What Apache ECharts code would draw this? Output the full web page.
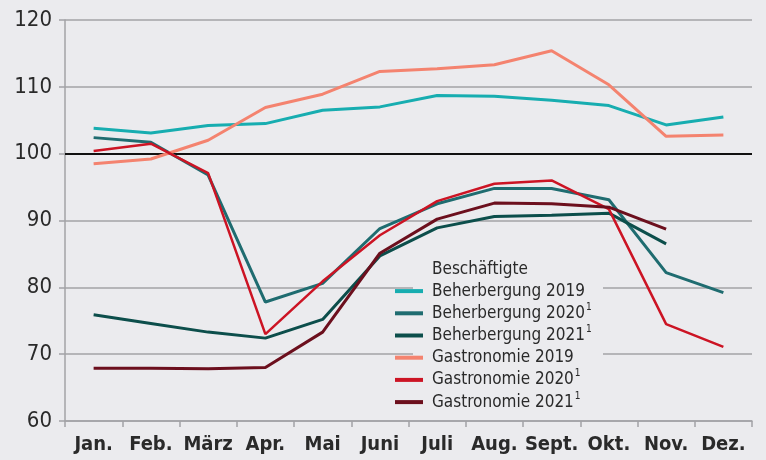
<!DOCTYPE html>
<html><head><meta charset="utf-8">
<script src="https://cdn.jsdelivr.net/npm/echarts@6/dist/echarts.min.js"></script>
<style>html,body{margin:0;padding:0;background:#ebebee}#c{width:766px;height:460px}</style>
</head><body><div id="c"></div>
<script>
const months = ['Jan.','Feb.','März','Apr.','Mai','Juni','Juli','Aug.','Sept.','Okt.','Nov.','Dez.'];
const yTicks = [60,70,80,90,100,110,120];
const beh2019 = [103.8,103.1,104.2,104.5,106.5,107.0,108.7,108.6,108.0,107.2,104.3,105.5];
const beh2020 = [102.4,101.7,96.8,77.8,80.6,88.8,92.5,94.8,94.8,93.1,82.2,79.2];
const beh2021 = [75.9,74.6,73.3,72.4,75.2,84.7,88.9,90.6,90.8,91.1,86.5,null];
const gas2019 = [98.5,99.2,102.0,106.9,108.9,112.3,112.7,113.3,115.4,110.3,102.6,102.8];
const gas2020 = [100.4,101.5,97.1,73.0,80.9,87.8,92.9,95.5,96.0,91.7,74.5,71.1];
const gas2021 = [67.9,67.9,67.8,68.0,73.3,85.1,90.2,92.6,92.5,92.0,88.7,null];
const names = ['Beherbergung 2019','Beherbergung 2020','Beherbergung 2021','Gastronomie 2019','Gastronomie 2020','Gastronomie 2021'];
const sup = [false,true,true,false,true,true];
const colors = ['#17adb0','#1f6c70','#0c4e4b','#f4836f','#cc1424','#6c0f1d'];
const widths = [3,3,3,3,2.5,3];
const datas = [beh2019,beh2020,beh2021,gas2019,gas2020,gas2021];

const FONT = '"DejaVu Sans Condensed","DejaVu Sans",sans-serif';
const chart = echarts.init(document.getElementById('c'));
const series = names.map((n,i)=>({
  name:n, type:'line', data:datas[i], symbol:'none', smooth:false,
  lineStyle:{color:colors[i], width:widths[i]}, itemStyle:{color:colors[i]}, z: 3+i,
  markLine: i===0 ? {silent:true, symbol:'none', label:{show:false},
    lineStyle:{color:'#111', width:2, type:'solid'}, data:[{yAxis:100}], z:2} : undefined
}));
chart.setOption({
  backgroundColor:'#ebebee',
  animation:false,
  grid:{left:65,right:14,top:20,bottom:39,containLabel:false},
  title:{text:'Beschäftigte', left:427, top:256,
    textStyle:{fontFamily:FONT, fontSize:17, fontWeight:'normal', color:'#2a2a2a'}},
  graphic:[{type:'rect', left:413, top:258, shape:{width:190,height:152}, style:{fill:'#ebebee'}, z:1, silent:true}],
  legend:{orient:'vertical', left:390, top:275, itemGap:0, icon:'rect', itemWidth:28, itemHeight:4,
    data:names,
    formatter:(n)=>{const i=names.indexOf(n); return sup[i] ? '{t|'+n+'}{s|1}' : '{t|'+n+'}';},
    textStyle:{fontFamily:FONT, fontSize:17, color:'#2a2a2a', padding:[0,0,0,4], lineHeight:22.2,
      rich:{t:{fontFamily:FONT, fontSize:17, color:'#2a2a2a', lineHeight:22.2},
            s:{fontFamily:FONT, fontSize:10, color:'#2a2a2a', verticalAlign:'top', padding:[0,0,8,1]}}}},
  xAxis:{type:'category', data:months, boundaryGap:true,
    axisLine:{show:true, lineStyle:{color:'#a3a3a6', width:1.5}},
    axisTick:{show:true, length:6, lineStyle:{color:'#a3a3a6', width:1.5}},
    axisLabel:{interval:0, fontFamily:FONT, fontSize:20, fontWeight:'bold', color:'#2a2a2a', margin:14}},
  yAxis:{type:'value', min:60, max:120, interval:10,
    axisLine:{show:true, lineStyle:{color:'#a3a3a6', width:1.5}},
    axisTick:{show:true, length:6, lineStyle:{color:'#a3a3a6', width:1.5}},
    splitLine:{show:true, lineStyle:{color:'#a3a3a6', width:1.5}},
    axisLabel:{fontFamily:FONT, fontSize:22, color:'#2a2a2a', margin:13,
      formatter:(v)=> yTicks.includes(v) ? String(v) : ''}},
  series
});
</script></body></html>
